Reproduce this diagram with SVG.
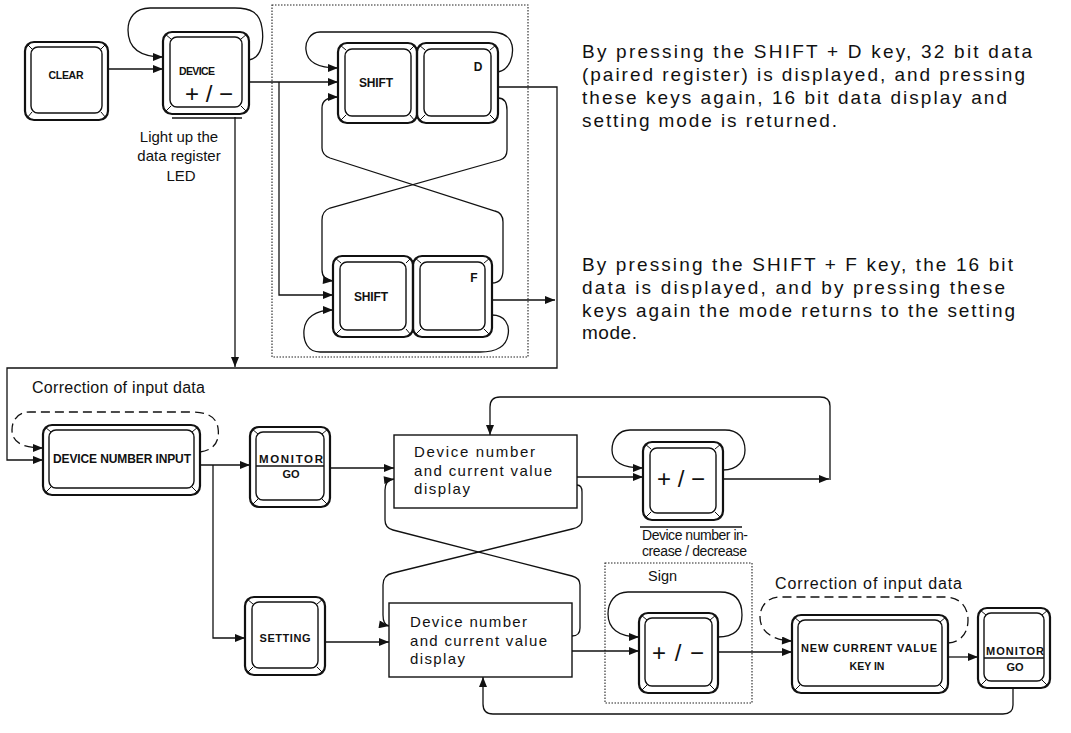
<svg xmlns="http://www.w3.org/2000/svg" width="1071" height="733" viewBox="0 0 1071 733">
<defs>
<style>
.ko{fill:none;stroke:#111;stroke-width:2.2}
.ki{fill:none;stroke:#111;stroke-width:1.4}
.tk{fill:none;stroke:#111;stroke-width:1}
.ln{fill:none;stroke:#111;stroke-width:1.3}
.dash{stroke-dasharray:9 5}
.dot{fill:none;stroke:#222;stroke-width:1.1;stroke-dasharray:1.5 1.5}
.box{fill:#fff;stroke:#111;stroke-width:1.4}
.kt{font-family:"Liberation Sans",Arial,sans-serif;font-weight:bold;fill:#111;text-anchor:middle}
.pm{font-family:"Liberation Sans",Arial,sans-serif;font-size:24px;fill:#111;text-anchor:middle}
.tx{font-family:"Liberation Sans",Arial,sans-serif;fill:#111}
</style>
<marker id="ah" viewBox="0 0 10 8" refX="10" refY="4" markerWidth="11" markerHeight="8" orient="auto" markerUnits="userSpaceOnUse"><path d="M0,0 L10,4 L0,8 z" fill="#111"/></marker>
</defs>
<rect width="1071" height="733" fill="#fff"/>

<!-- dotted groupings -->
<rect class="dot" x="272" y="5" width="256" height="352"/>
<rect class="dot" x="605" y="563" width="147" height="140"/>

<!-- connectors -->
<g id="connectors" class="ln">
<path d="M108,69 H163" marker-end="url(#ah)"/>
<path d="M249,60 C262,58 264,40 262,28 C260,12 250,8 235,8 H150 C135,8 128,18 128,30 C128,48 140,57 163,57" marker-end="url(#ah)"/>
<path d="M249,82 H338" marker-end="url(#ah)"/>
<path d="M279,82 V295 H333" marker-end="url(#ah)"/>
<path d="M235,117 V367" marker-end="url(#ah)"/>
<path d="M498,87 H557 V368 H7 V460 H43" marker-end="url(#ah)"/>
<path d="M492,300 H555" marker-end="url(#ah)"/>
<path d="M498,72 C510,70 514,55 512,45 C510,35 500,32 490,32 H320 C310,32 305,42 306,50 C307,62 318,68 338,68" marker-end="url(#ah)"/>
<path d="M498,98 C506,98 507,105 507,110 V150 Q507,158 500,160 L330,208 Q322,211 322,220 V270 Q322,280 333,281" marker-end="url(#ah)"/>
<path d="M492,283 C500,283 503,278 503,270 V222 Q503,213 495,211 L330,158 Q322,155 322,148 V108 Q322,97 338,97" marker-end="url(#ah)"/>
<path d="M492,315 C505,315 510,325 508,335 C506,348 495,352 480,352 H320 C308,352 303,342 304,330 C305,318 315,310 333,310" marker-end="url(#ah)"/>

<path class="dash" d="M200,452 C215,450 220,440 218,428 C216,415 205,412 190,412 H30 C18,412 12,420 12,430 C12,442 22,448 43,448" marker-end="url(#ah)"/>
<path d="M200,465 H250" marker-end="url(#ah)"/>
<path d="M213,465 V638 H245" marker-end="url(#ah)"/>
<path d="M330,468 H394" marker-end="url(#ah)"/>
<path d="M577,477 H643" marker-end="url(#ah)"/>
<path d="M723,470 C738,470 745,460 745,450 C745,438 738,430 725,430 H630 C618,430 612,440 612,450 C612,462 622,468 643,468" marker-end="url(#ah)"/>
<path d="M723,479 H829" marker-end="url(#ah)"/>
<path d="M830,480 V406 Q830,397 820,397 H500 Q490,397 490,407 V435" marker-end="url(#ah)"/>
<path d="M577,485 Q582,485 582,492 V520 Q582,527 572,529 L393,573 Q383,575 383,585 V615 Q383,625 389,626" marker-end="url(#ah)"/>
<path d="M572,636 Q580,636 580,628 V585 Q580,578 572,576 L393,530 Q385,528 385,520 V490 Q385,480 394,479" marker-end="url(#ah)"/>
<path d="M325,642 H389" marker-end="url(#ah)"/>
<path d="M572,651 H639" marker-end="url(#ah)"/>
<path d="M718,637 C735,637 742,628 742,615 C742,600 735,592 720,592 H628 C615,592 608,602 608,614 C608,628 618,637 639,637" marker-end="url(#ah)"/>
<path d="M718,652 H792" marker-end="url(#ah)"/>
<path class="dash" d="M948,643 C962,642 968,632 968,620 C968,605 958,597 945,597 H780 C767,597 760,607 760,617 C760,630 770,640 792,641" marker-end="url(#ah)"/>
<path d="M948,657 H978" marker-end="url(#ah)"/>
<path d="M1013,688 V705 Q1013,714 1003,714 H493 Q483,714 483,704 V677" marker-end="url(#ah)"/>
</g>

<!-- keys -->
<g id="key-clear">
<rect class="ko" x="25" y="42" width="83" height="78" rx="9"/>
<rect class="ki" x="31" y="47" width="71" height="66" rx="7"/>
<path class="tk" d="M27,44 l5,5 M106,44 l-5,5 M27,118 l5,-6 M106,118 l-5,-6"/>
<text class="kt" x="66" y="79" font-size="10.5" textLength="35">CLEAR</text>
</g>

<g id="key-device">
<rect class="ko" x="163" y="32" width="86" height="82" rx="9"/>
<rect class="ki" x="170" y="37" width="72" height="70" rx="7"/>
<path class="tk" d="M165,34 l6,5 M247,34 l-6,5 M165,112 l6,-6 M247,112 l-6,-6"/>
<line class="ln" x1="172" y1="118" x2="242" y2="118"/>
<text class="kt" x="197" y="75" font-size="10.5" textLength="36">DEVICE</text>
<text class="pm" x="209" y="102" textLength="48">+/−</text>
</g>
<text class="tx" font-size="15" text-anchor="middle" x="179" y="142">Light up the</text>
<text class="tx" font-size="15" text-anchor="middle" x="179" y="161">data register</text>
<text class="tx" font-size="15" text-anchor="middle" x="181" y="181">LED</text>

<g id="key-shift-d">
<rect class="ko" x="338" y="43" width="79" height="80" rx="9"/>
<rect class="ki" x="345" y="49" width="66" height="67" rx="7"/>
<path class="tk" d="M340,45 l6,5 M415,45 l-5,5 M340,121 l6,-6 M415,121 l-5,-6"/>
<text class="kt" x="376" y="87" font-size="12" textLength="34">SHIFT</text>
</g>
<g id="key-d">
<rect class="ko" x="417" y="43" width="81" height="80" rx="9"/>
<rect class="ki" x="424" y="49" width="67" height="67" rx="7"/>
<path class="tk" d="M419,45 l6,5 M496,45 l-6,5 M419,121 l6,-6 M496,121 l-6,-6"/>
<text class="kt" x="478" y="71" font-size="12">D</text>
</g>

<g id="key-shift-f">
<rect class="ko" x="333" y="256" width="80" height="81" rx="9"/>
<rect class="ki" x="340" y="262" width="66" height="68" rx="7"/>
<path class="tk" d="M335,258 l6,5 M411,258 l-5,5 M335,335 l6,-6 M411,335 l-5,-6"/>
<text class="kt" x="371" y="301" font-size="12" textLength="34">SHIFT</text>
</g>
<g id="key-f">
<rect class="ko" x="413" y="256" width="79" height="81" rx="9"/>
<rect class="ki" x="420" y="262" width="65" height="68" rx="7"/>
<path class="tk" d="M415,258 l6,5 M490,258 l-6,5 M415,335 l6,-6 M490,335 l-6,-6"/>
<text class="kt" x="474" y="282" font-size="12">F</text>
</g>

<g id="text-shift-d">
<text class="tx" font-size="19" x="582" y="58" textLength="450">By pressing the SHIFT + D key, 32 bit data</text>
<text class="tx" font-size="19" x="582" y="81" textLength="443">(paired register) is displayed, and pressing</text>
<text class="tx" font-size="19" x="582" y="104" textLength="425">these keys again, 16 bit data display and</text>
<text class="tx" font-size="19" x="582" y="127" textLength="255">setting mode is returned.</text>
</g>
<g id="text-shift-f">
<text class="tx" font-size="19" x="582" y="271" textLength="431">By pressing the SHIFT + F key, the 16 bit</text>
<text class="tx" font-size="19" x="582" y="294" textLength="423">data is displayed, and by pressing these</text>
<text class="tx" font-size="19" x="582" y="317" textLength="433">keys again the mode returns to the setting</text>
<text class="tx" font-size="19" x="582" y="339" textLength="55">mode.</text>
</g>

<text class="tx" font-size="16" x="32" y="393" textLength="173">Correction of input data</text>

<g id="key-device-number-input">
<rect class="ko" x="43" y="425" width="157" height="70" rx="9"/>
<rect class="ki" x="49" y="430" width="145" height="58" rx="7"/>
<path class="tk" d="M45,427 l6,5 M198,427 l-6,5 M45,493 l6,-6 M198,493 l-6,-6"/>
<text class="kt" x="122" y="463" font-size="12" textLength="138">DEVICE NUMBER INPUT</text>
</g>

<g id="key-monitor-go-1">
<rect class="ko" x="250" y="427" width="80" height="80" rx="9"/>
<rect class="ki" x="256" y="432" width="68" height="68" rx="7"/>
<path class="tk" d="M252,429 l6,5 M328,429 l-6,5 M252,505 l6,-6 M328,505 l-6,-6"/>
<text class="kt" x="291" y="463" font-size="11.5" textLength="64">MONITOR</text>
<line class="ln" x1="256" y1="466" x2="324" y2="466"/>
<text class="kt" x="291" y="478" font-size="11">GO</text>
</g>

<g id="display-1">
<rect class="box" x="394" y="435" width="183" height="73"/>
<text class="tx" font-size="15" x="414" y="457" textLength="121">Device number</text>
<text class="tx" font-size="15" x="414" y="476" textLength="138">and current value</text>
<text class="tx" font-size="15" x="414" y="494" textLength="56">display</text>
</g>

<g id="key-devnum-pm">
<rect class="ko" x="643" y="442" width="80" height="78" rx="9"/>
<rect class="ki" x="650" y="448" width="66" height="65" rx="7"/>
<path class="tk" d="M645,444 l6,5 M721,444 l-6,5 M645,518 l6,-6 M721,518 l-6,-6"/>
<text class="pm" x="681" y="487" textLength="48">+/−</text>
</g>
<line class="ln" x1="640" y1="527" x2="742" y2="527"/>
<text class="tx" font-size="14" x="642" y="540" textLength="106">Device number in-</text>
<text class="tx" font-size="14" x="642" y="556" textLength="105">crease / decrease</text>

<g id="key-setting">
<rect class="ko" x="245" y="597" width="80" height="78" rx="9"/>
<rect class="ki" x="252" y="602" width="66" height="66" rx="7"/>
<path class="tk" d="M247,599 l6,5 M323,599 l-6,5 M247,673 l6,-6 M323,673 l-6,-6"/>
<text class="kt" x="285" y="642" font-size="11" textLength="51">SETTING</text>
</g>

<g id="display-2">
<rect class="box" x="389" y="603" width="183" height="74"/>
<text class="tx" font-size="15" x="410" y="627" textLength="117">Device number</text>
<text class="tx" font-size="15" x="410" y="646" textLength="137">and current value</text>
<text class="tx" font-size="15" x="410" y="664" textLength="55">display</text>
</g>

<text class="tx" font-size="14.5" x="648" y="581">Sign</text>
<g id="key-sign-pm">
<rect class="ko" x="639" y="613" width="79" height="80" rx="9"/>
<rect class="ki" x="645" y="618" width="67" height="68" rx="7"/>
<path class="tk" d="M641,615 l6,5 M716,615 l-6,5 M641,691 l6,-6 M716,691 l-6,-6"/>
<text class="pm" x="678" y="661" textLength="52">+/−</text>
</g>

<text class="tx" font-size="16" x="775" y="589" textLength="187">Correction of input data</text>

<g id="key-new-current-value">
<rect class="ko" x="792" y="615" width="156" height="78" rx="9"/>
<rect class="ki" x="798" y="620" width="144" height="66" rx="7"/>
<path class="tk" d="M794,617 l6,5 M946,617 l-6,5 M794,691 l6,-6 M946,691 l-6,-6"/>
<text class="kt" x="869" y="652" font-size="11" textLength="136">NEW CURRENT VALUE</text>
<text class="kt" x="867" y="670" font-size="10.5">KEY IN</text>
</g>

<g id="key-monitor-go-2">
<rect class="ko" x="978" y="608" width="72" height="80" rx="9"/>
<rect class="ki" x="984" y="613" width="60" height="68" rx="7"/>
<path class="tk" d="M980,610 l6,5 M1048,610 l-6,5 M980,686 l6,-6 M1048,686 l-6,-6"/>
<text class="kt" x="1015" y="655" font-size="11" textLength="58">MONITOR</text>
<line class="ln" x1="984" y1="658" x2="1044" y2="658"/>
<text class="kt" x="1015" y="671" font-size="11">GO</text>
</g>
</svg>
